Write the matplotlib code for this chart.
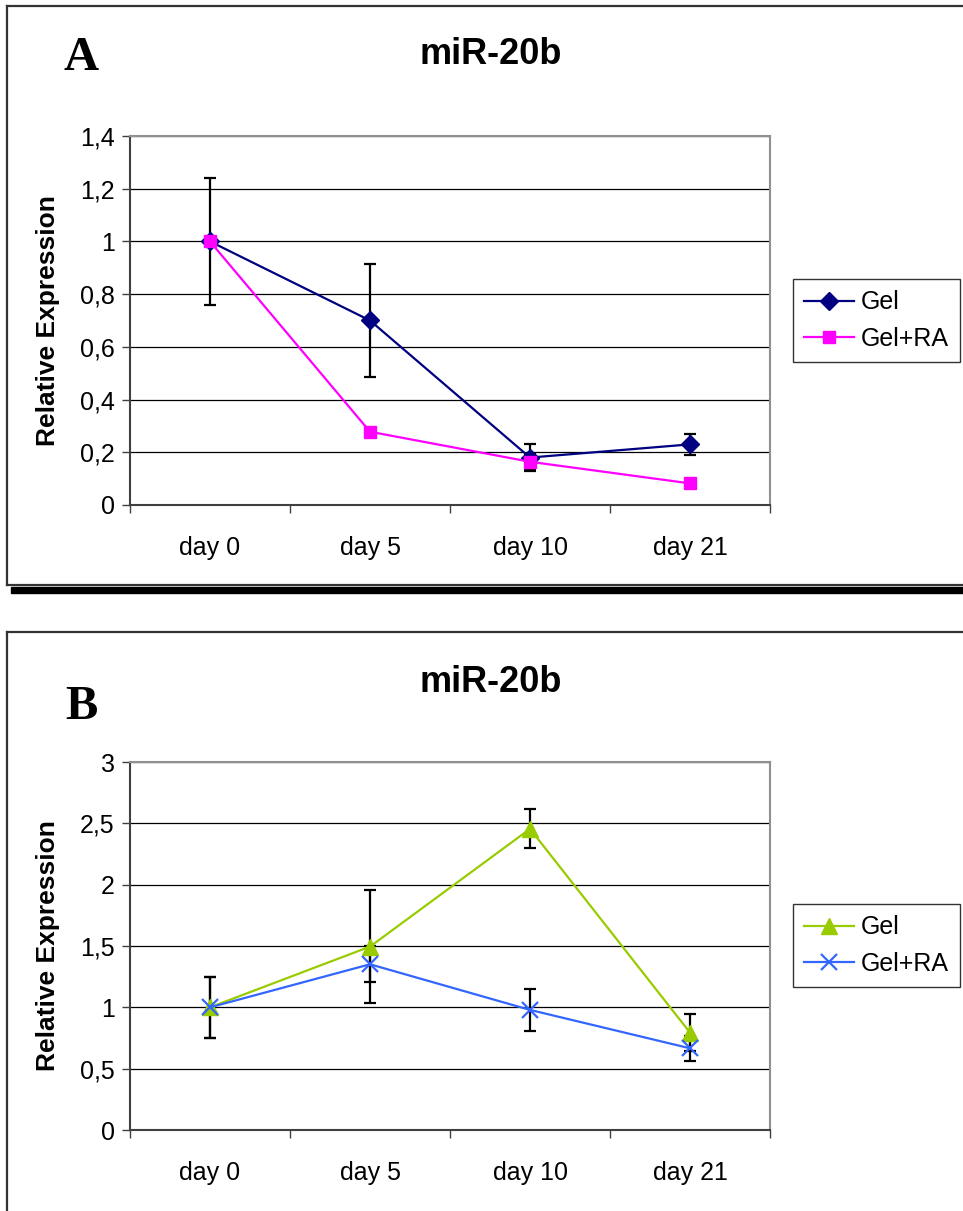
import matplotlib
matplotlib.use('Agg')
import matplotlib.pyplot as plt
import numpy as np
from matplotlib.lines import Line2D
from matplotlib.patches import Rectangle
from matplotlib.ticker import FuncFormatter, MultipleLocator

plt.rcParams['font.family'] = ['Liberation Sans', 'DejaVu Sans']

days = ['day 0', 'day 5', 'day 10', 'day 21']

# panel A
a_gel = [1.0, 0.70, 0.18, 0.23]
a_gel_err = [0.24, 0.213, 0.05, 0.04]
a_ra = [1.0, 0.278, 0.164, 0.082]
a_ra_err = [0.0, 0.005, 0.03, 0.013]

# panel B
b_gel = [1.0, 1.495, 2.455, 0.794]
b_gel_err = [0.25, 0.46, 0.16, 0.15]
b_ra = [1.0, 1.351, 0.979, 0.666]
b_ra_err = [0.25, 0.146, 0.17, 0.10]

W, H = 963, 1211
fig = plt.figure(figsize=(W / 100, H / 100), dpi=100)


def fx(px):
    return px / W


def fy(py):
    return 1 - py / H


def comma(v, pos):
    return ('%g' % round(v, 2)).replace('.', ',')


def panel(top, bottom, ymax, ystep, s1, e1, s2, e2, st1, st2, leg_top, title_y, letter, letter_y):
    ax = fig.add_axes([fx(130), fy(bottom), fx(640), (bottom - top) / H])
    x = np.arange(len(days))
    ax.errorbar(x, s1, yerr=e1, fmt='none', ecolor='black', elinewidth=1.6,
                capsize=4.5, capthick=1.6, zorder=3)
    ax.errorbar(x, s2, yerr=e2, fmt='none', ecolor='black', elinewidth=1.6,
                capsize=4.5, capthick=1.6, zorder=3)
    ax.plot(x, s1, label='Gel', zorder=4, lw=1.6, **st1)
    ax.plot(x, s2, label='Gel+RA', zorder=5, lw=1.6, **st2)
    ax.set_xlim(-0.5, 3.5)
    ax.set_ylim(0, ymax)
    ax.yaxis.set_major_locator(MultipleLocator(ystep))
    ax.yaxis.set_major_formatter(FuncFormatter(comma))
    ax.grid(axis='y', color='black', lw=0.9)
    ax.set_axisbelow(True)
    ax.set_xticks(x)
    ax.set_xticklabels(days)
    ax.set_xticks(np.arange(-0.5, 4, 1), minor=True)
    ax.tick_params(axis='x', which='major', length=0, pad=22, labelsize=18)
    ax.tick_params(axis='x', which='minor', length=6, width=1, color='#404040')
    ax.tick_params(axis='y', length=6, width=1, color='#404040', pad=5, labelsize=18)
    for side in ['top', 'right']:
        ax.spines[side].set_color('#909090')
        ax.spines[side].set_linewidth(1.5)
    for side in ['left', 'bottom']:
        ax.spines[side].set_color('#404040')
        ax.spines[side].set_linewidth(1.5)
    leg = ax.legend(loc='upper left', bbox_to_anchor=(fx(793), fy(leg_top)),
                    bbox_transform=fig.transFigure, fontsize=18, frameon=True,
                    fancybox=False, edgecolor='black', borderaxespad=0,
                    handlelength=2.0, handletextpad=0.25, borderpad=0.45,
                    labelspacing=0.5)
    leg.get_frame().set_linewidth(1.0)
    fig.text(fx(491), fy(title_y), 'miR-20b', ha='center', va='center',
             fontsize=26, fontweight='bold')
    fig.text(fx(48), fy((top + bottom) / 2), 'Relative Expression', rotation=90,
             ha='center', va='center', fontsize=19, fontweight='bold')
    fig.text(fx(81), fy(letter_y), letter, ha='center', va='center', fontsize=35,
             fontweight='bold', family='Liberation Serif')
    return ax


panel(136, 505, 1.4, 0.2, a_gel, a_gel_err, a_ra, a_ra_err,
      dict(color='#000080', marker='D', markersize=9),
      dict(color='#FF00FF', marker='s', markersize=9),
      279, 54, 'A', 58)

panel(762, 1130, 3.0, 0.5, b_gel, b_gel_err, b_ra, b_ra_err,
      dict(color='#99CC00', marker='^', markersize=11),
      dict(color='#3366FF', marker='x', markersize=11, markeredgewidth=1.6),
      904, 682, 'B', 707)

# outer frames
frame = dict(color='#333333', lw=1.6, transform=fig.transFigure)
fig.add_artist(Line2D([fx(7), 1], [fy(6), fy(6)], **frame))
fig.add_artist(Line2D([fx(7), fx(7)], [fy(6), fy(585)], **frame))
fig.add_artist(Line2D([fx(7), 1], [fy(585), fy(585)], **frame))
fig.add_artist(Rectangle((fx(11), fy(593)), 1 - fx(11), 6 / H, color='black',
                         transform=fig.transFigure))
fig.add_artist(Line2D([fx(7), 1], [fy(632), fy(632)], **frame))
fig.add_artist(Line2D([fx(7), fx(7)], [fy(632), 0], **frame))

fig.savefig('out.png', dpi=100)
